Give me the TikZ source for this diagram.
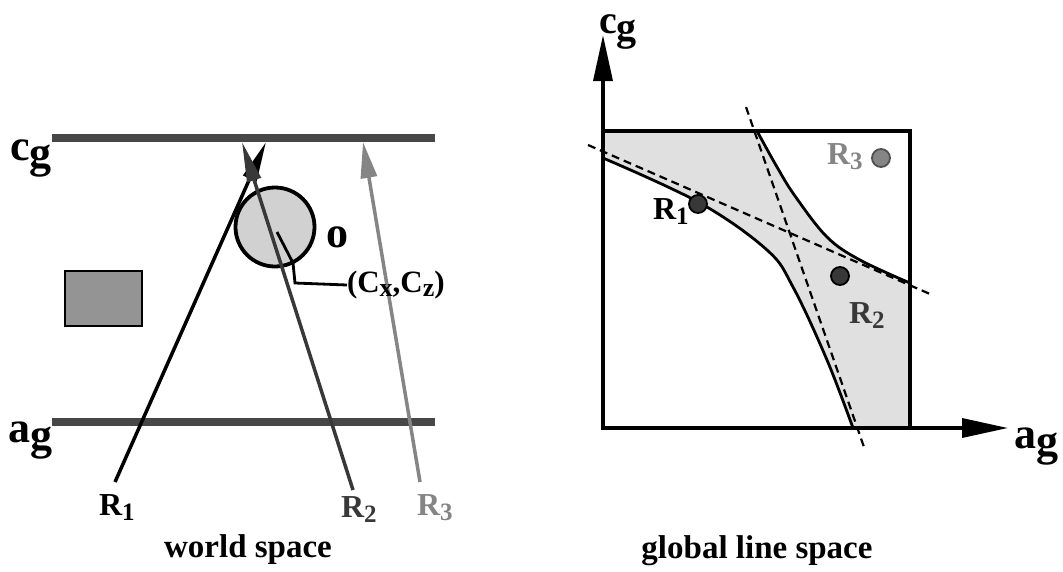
\documentclass[tikz,border=0pt]{standalone}
\usepackage{fontspec}
\setmainfont{Liberation Serif}
\usetikzlibrary{arrows.meta}
\definecolor{bargray}{gray}{0.28}
\definecolor{circfill}{gray}{0.82}
\definecolor{rectfill}{gray}{0.58}
\definecolor{regionfill}{gray}{0.88}
\definecolor{rtwo}{gray}{0.22}
\definecolor{rthree}{gray}{0.52}
\begin{document}
\begin{tikzpicture}[x=1pt,y=-1pt,
  every node/.style={inner sep=0pt,outer sep=0pt},
  biglbl/.style={font=\fontsize{44}{48}\selectfont\bfseries,anchor=base,text height=0.5em,text depth=0.38em},
  rlbl/.style={font=\fontsize{32}{36}\selectfont\bfseries,anchor=base west},
  caption/.style={font=\fontsize{33}{38}\selectfont\bfseries,anchor=base},
  bar/.style={line width=8pt,bargray},
  ray/.style={line width=3.5pt},
  rayhead/.style={-{Triangle[length=40pt,width=14pt]}},
  curve/.style={line width=2.8pt,black},
  dline/.style={line width=2.2pt,dash pattern=on 8pt off 5pt},
  axis/.style={line width=3.5pt,-{Triangle[length=46pt,width=19pt]}},
  dot/.style={circle,draw=black,line width=1.8pt,minimum size=18pt}
]
\useasboundingbox (0,0) rectangle (1063,571);

% ---------------- left panel: world space ----------------
\draw[fill=rectfill,line width=2.2pt] (65,271) rectangle (142,326);
\node[circle,draw=black,fill=circfill,line width=3.8pt,minimum size=79pt] (o) at (275,227) {};

\coordinate (cgL) at (52,138);
\coordinate (cgR) at (435,138);
\coordinate (agL) at (52,422);
\coordinate (agR) at (435,422);
\draw[bar] (cgL) -- (cgR);
\draw[bar] (agL) -- (agR);

\coordinate (r1s) at (115,482);
\coordinate (r1e) at (266,142);
\coordinate (r2s) at (353,490);
\coordinate (r2e) at (242,142);
\coordinate (r3s) at (420,482);
\coordinate (r3e) at (363,142);
\draw[ray,rayhead,black] (r1s) -- (r1e);
\draw[ray,rayhead,rtwo] (r2s) -- (r2e);
\draw[ray,rthree,-{Triangle[length=36pt,width=16pt]}] (r3s) -- (r3e);

\coordinate (c0) at (277,232);
\coordinate (c1) at (293,263);
\coordinate (c2) at (295,283);
\node[anchor=west,font=\fontsize{31}{34}\selectfont\bfseries] (cxcz) at (347,285)
  {(C\raisebox{-0.3ex}{\fontsize{26}{28}\selectfont x},C\raisebox{-0.3ex}{\fontsize{26}{28}\selectfont z})};
\draw[line width=2.8pt] (c0) -- (c1) -- (c2) -- (cxcz.west);

\node[biglbl] (lcg) at (31,160) {c\raisebox{-0.18em}{g}};
\node[biglbl] (lag) at (31,442) {a\raisebox{-0.18em}{g}};
\node[biglbl] (olbl) at (337,247) {o};

\node[rlbl] (lr1) at (99,515) {R\raisebox{-0.35ex}{\fontsize{25}{28}\selectfont 1}};
\node[rlbl,rtwo] (lr2) at (341,517) {R\raisebox{-0.35ex}{\fontsize{25}{28}\selectfont 2}};
\node[rlbl,rthree] (lr3) at (417,515) {R\raisebox{-0.35ex}{\fontsize{25}{28}\selectfont 3}};

\node[caption] (ws) at (248,557) {world space};

% ---------------- right panel: global line space ----------------
\fill[regionfill] (603,131) -- (757,131)
  -- plot[smooth,tension=0.6] coordinates {(757,131) (777,167) (795,196) (827,237) (860,260) (910,283)}
  -- (910,428) -- (853,428)
  -- plot[smooth,tension=0.6] coordinates {(853,428) (827,360) (793,287) (767,250) (700,203) (603,158)}
  -- cycle;
\draw[curve] plot[smooth,tension=0.6] coordinates {(757,131) (777,167) (795,196) (827,237) (860,260) (910,283)};
\draw[curve] plot[smooth,tension=0.6] coordinates {(853,428) (827,360) (793,287) (767,250) (700,203) (603,158)};

\coordinate (d1a) at (588,145);
\coordinate (d1b) at (930,294);
\coordinate (d2a) at (746,107);
\coordinate (d2b) at (865,450);
\draw[dline] (d1a) -- (d1b);
\draw[dline] (d2a) -- (d2b);

\draw[line width=4pt] (603,131) rectangle (910,428);
\coordinate (orig) at (603,428);
\coordinate (ytip) at (603,35);
\coordinate (xtip) at (1008,428);
\draw[axis] (orig) -- (ytip);
\draw[axis] (orig) -- (xtip);

\node[dot,fill=rtwo] (p1) at (698,204) {};
\node[dot,fill=rtwo] (p2) at (840,276) {};
\node[dot,fill=rthree,draw=rthree!60!black] (p3) at (881,158) {};

\node[rlbl] (rr1) at (653,219) {R\raisebox{-0.35ex}{\fontsize{25}{28}\selectfont 1}};
\node[rlbl,rtwo] (rr2) at (849,323) {R\raisebox{-0.35ex}{\fontsize{25}{28}\selectfont 2}};
\node[rlbl,rthree] (rr3) at (827,164) {R\raisebox{-0.35ex}{\fontsize{25}{28}\selectfont 3}};

\node[biglbl,font=\fontsize{40}{44}\selectfont\bfseries] (rcg) at (618,33) {c\raisebox{-0.18em}{g}};
\node[biglbl] (rag) at (1036,448) {a\raisebox{-0.18em}{g}};

\node[caption] (gls) at (757,558) {global line space};
\end{tikzpicture}
\end{document}
